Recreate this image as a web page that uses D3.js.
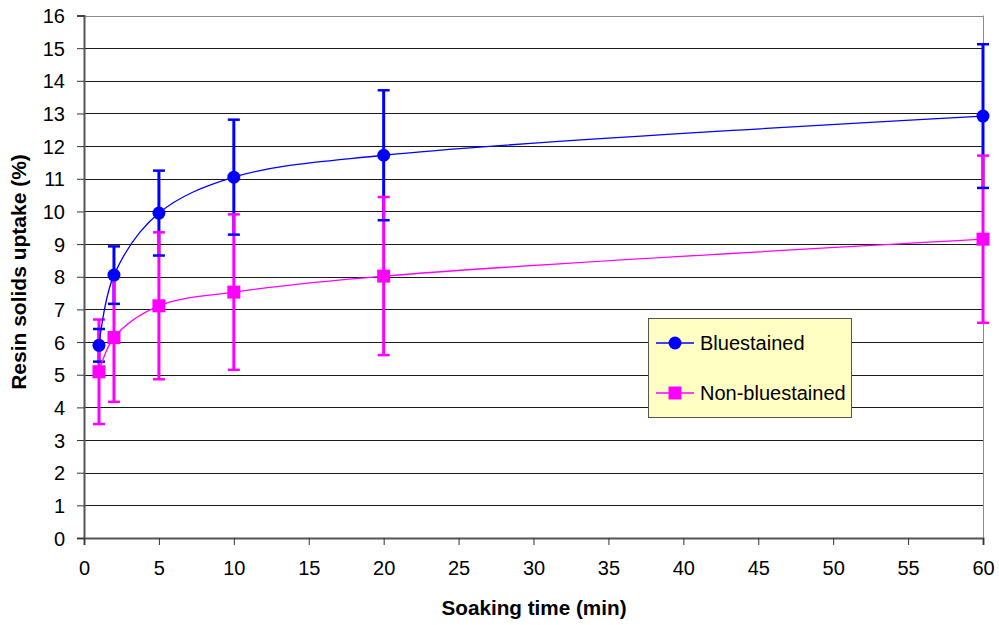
<!DOCTYPE html>
<html><head><meta charset="utf-8">
<script src="https://cdn.jsdelivr.net/npm/d3@7/dist/d3.min.js"></script>
<style>body{margin:0;background:#fff}svg{display:block;font-family:"Liberation Sans",Arial,sans-serif}</style>
</head><body><svg id="c" width="999" height="625"></svg>
<script>
const times = [1, 2, 5, 10, 20, 60];
const blueMean = [5.9, 8.05, 9.95, 11.05, 11.72, 12.92];
const blueErr  = [0.5, 0.88, 1.3, 1.76, 1.99, 2.2];
const pinkMean = [5.09, 6.14, 7.11, 7.53, 8.02, 9.15];
const pinkErr  = [1.6, 1.97, 2.25, 2.38, 2.42, 2.56];
const xTicks = [0,5,10,15,20,25,30,35,40,45,50,55,60];
const yTicks = d3.range(0,17);
const seriesNames = ["Bluestained", "Non-bluestained"];

const svg = d3.select("#c");
const L = 84, R = 983, T = 15.5, B = 538;
const x = d3.scaleLinear().domain([0,60]).range([L,R]);
const y = d3.scaleLinear().domain([0,16]).range([B,T]);

// grid
svg.append("g").selectAll("line").data(yTicks.filter(d=>d>0 && d<16)).join("line")
  .attr("x1",L).attr("x2",R).attr("y1",d=>Math.round(y(d))+0.5).attr("y2",d=>Math.round(y(d))+0.5)
  .attr("stroke","#1a1a1a").attr("stroke-width",1);
// top/right border
svg.append("line").attr("x1",L).attr("x2",R).attr("y1",Math.round(T)+0.5).attr("y2",Math.round(T)+0.5).attr("stroke","#8c8c8c");
svg.append("line").attr("x1",R+0.5).attr("x2",R+0.5).attr("y1",T).attr("y2",B).attr("stroke","#8c8c8c");

// axes
const yAxis = d3.axisLeft(y).tickValues(yTicks).tickSize(7).tickPadding(12).tickFormat(d3.format("d"));
const gy = svg.append("g").attr("transform",`translate(${L},0)`).call(yAxis);
const xAxis = d3.axisBottom(x).tickValues(xTicks).tickSize(7).tickPadding(16).tickFormat(d3.format("d"));
const gx = svg.append("g").attr("transform",`translate(0,${B})`).call(xAxis);
[gx,gy].forEach(g=>{
  g.select(".domain").attr("stroke","#555").attr("stroke-width",2);
  g.selectAll(".tick line").attr("stroke","#333");
  g.selectAll("text").attr("font-size",20).attr("fill","#000").attr("font-family","Liberation Sans, Arial, sans-serif");
});
gy.selectAll("text").attr("dy","0.35em");

// titles
svg.append("text").attr("x",534).attr("y",615).attr("text-anchor","middle")
  .attr("font-weight","bold").attr("font-size",20.7).text("Soaking time (min)");
svg.append("text").attr("transform",`translate(26,272) rotate(-90)`).attr("text-anchor","middle")
  .attr("font-weight","bold").attr("font-size",21).text("Resin solids uptake (%)");

const blue = "#0000ff", pink = "#ff00ff";
const mk = (means, errs) => times.map((t,i)=>({t, m:means[i], e:errs[i]}));
const bData = mk(blueMean, blueErr), pData = mk(pinkMean, pinkErr);

function bars(data,col){
  svg.append("g").selectAll("line").data(data).join("line")
    .attr("x1",d=>x(d.t)).attr("x2",d=>x(d.t)).attr("y1",d=>y(d.m+d.e)).attr("y2",d=>y(d.m-d.e))
    .attr("stroke",col).attr("stroke-width",3);
}
function caps(data,col){
  const g = svg.append("g");
  data.forEach(d=>{
    [d.m+d.e, d.m-d.e].forEach(v=>{
      g.append("line").attr("x1",x(d.t)-6).attr("x2",x(d.t)+6).attr("y1",y(v)).attr("y2",y(v))
        .attr("stroke",col).attr("stroke-width",2.5);
    });
  });
}
bars(bData,blue);
bars(pData,pink); caps(pData,pink);
caps(bData,blue);

const line = d3.line().x(d=>x(d.t)).y(d=>y(d.m)).curve(d3.curveCatmullRom.alpha(0.5));
svg.append("path").datum(bData).attr("d",line).attr("fill","none").attr("stroke",blue).attr("stroke-width",1.3);
svg.append("path").datum(pData).attr("d",line).attr("fill","none").attr("stroke",pink).attr("stroke-width",1.3);

svg.append("g").selectAll("circle").data(bData).join("circle")
  .attr("cx",d=>x(d.t)).attr("cy",d=>y(d.m)).attr("r",6.5).attr("fill",blue);
svg.append("g").selectAll("rect").data(pData).join("rect")
  .attr("x",d=>x(d.t)-6.5).attr("y",d=>y(d.m)-6.5).attr("width",13).attr("height",13).attr("fill",pink);

// legend
const lg = svg.append("g");
lg.append("rect").attr("x",648.5).attr("y",318.5).attr("width",203).attr("height",99)
  .attr("fill","#ffffc4").attr("stroke","#555").attr("stroke-width",1);
const rows = [{n:seriesNames[0],c:blue,s:"c",yy:343},{n:seriesNames[1],c:pink,s:"s",yy:393}];
rows.forEach(r=>{
  lg.append("line").attr("x1",656).attr("x2",694).attr("y1",r.yy).attr("y2",r.yy).attr("stroke",r.c).attr("stroke-width",1.3);
  if(r.s==="c") lg.append("circle").attr("cx",675).attr("cy",r.yy).attr("r",6.5).attr("fill",r.c);
  else lg.append("rect").attr("x",668.5).attr("y",r.yy-6.5).attr("width",13).attr("height",13).attr("fill",r.c);
  lg.append("text").attr("x",700).attr("y",r.yy).attr("dy","0.35em").attr("font-size",20).text(r.n);
});
</script></body></html>
